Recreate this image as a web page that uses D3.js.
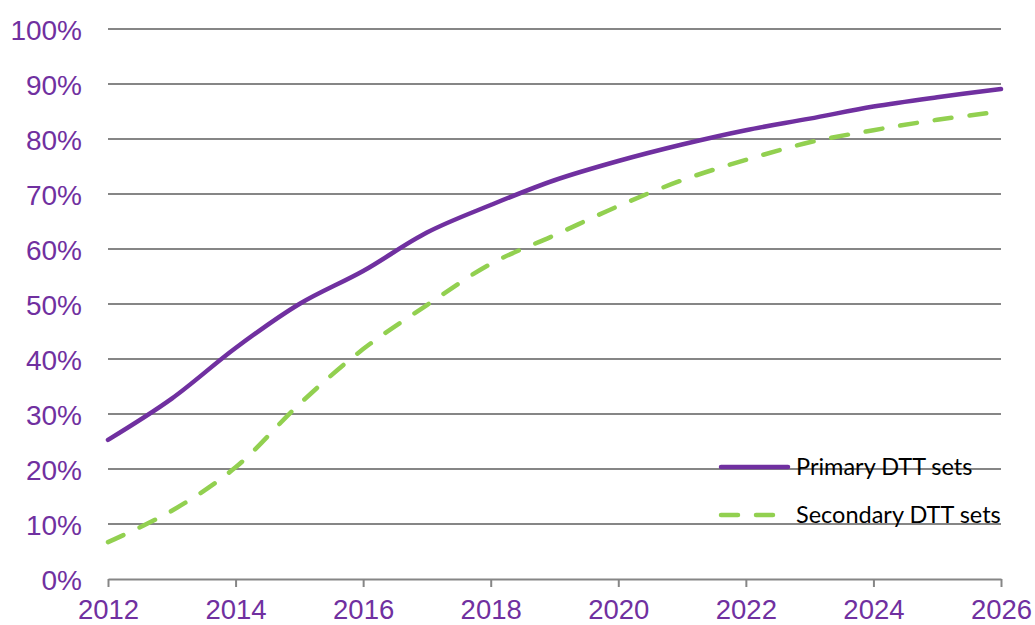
<!DOCTYPE html>
<html><head><meta charset="utf-8">
<script src="https://cdn.jsdelivr.net/npm/d3@7"></script>
<style>body{margin:0;background:#fff}svg{display:block}</style>
</head><body><svg id="c" width="1035" height="625"></svg>
<script>
const years = [2012,2013,2014,2015,2016,2017,2018,2019,2020,2021,2022,2023,2024,2025,2026];
const primary = [25.3,32.8,42,50,56,63,68,72.5,76,79,81.6,83.7,85.9,87.6,89.1];
const secondary = [6.7,12.4,20.3,31.8,41.8,49.8,57.3,62.5,67.8,72.5,76.2,79.4,81.6,83.5,85];
const xTicks = [2012,2014,2016,2018,2020,2022,2024,2026];
const yTicks = [0,10,20,30,40,50,60,70,80,90,100];
const seriesNames = ["Primary DTT sets","Secondary DTT sets"];

const svg = d3.select("#c");
const x = d3.scaleLinear().domain([2012,2026]).range([108,1001]);
const y = d3.scaleLinear().domain([0,100]).range([579,29]);
const purple = "#7030A0", green = "#92D050", grid = "#868686";
const dash = "17,18";

// gridlines
svg.append("g").selectAll("line").data(yTicks.filter(d=>d>0)).join("line")
  .attr("x1",x.range()[0]).attr("x2",x.range()[1])
  .attr("y1",d=>y(d)).attr("y2",d=>y(d))
  .attr("stroke",grid).attr("stroke-width",2);

// y axis labels
const yAxis = d3.axisLeft(y).tickValues(yTicks).tickFormat(d=>d+"%").tickSize(0).tickPadding(26);
const gy = svg.append("g").attr("transform",`translate(${x.range()[0]},0)`).call(yAxis);
gy.select(".domain").remove();
gy.selectAll("text").attr("fill",purple).attr("font-family","Liberation Sans, Arial, sans-serif").attr("font-size",28).attr("dy","0.36em");

// x axis
const xAxis = d3.axisBottom(x).tickValues(xTicks).tickFormat(d3.format("d")).tickSize(8).tickSizeOuter(0).tickPadding(12);
const gx = svg.append("g").attr("transform",`translate(0,${y(0)})`).call(xAxis);
gx.select(".domain").attr("stroke",grid).attr("stroke-width",2);
gx.selectAll(".tick line").attr("stroke",grid).attr("stroke-width",2);
gx.selectAll("text").attr("fill",purple).attr("font-family","Liberation Sans, Arial, sans-serif").attr("font-size",27.5);

const line = d3.line().x((d,i)=>x(years[i])).y(d=>y(d)).curve(d3.curveCatmullRom.alpha(0.5));

svg.append("path").datum(secondary).attr("d",line).attr("fill","none")
  .attr("stroke",green).attr("stroke-width",4.5).attr("stroke-linecap","round")
  .attr("stroke-dasharray",dash);
svg.append("path").datum(primary).attr("d",line).attr("fill","none")
  .attr("stroke",purple).attr("stroke-width",4.5).attr("stroke-linecap","round");

// legend
const lg = svg.append("g");
const items = [{name:seriesNames[0],color:purple,dash:null,y:467},{name:seriesNames[1],color:green,dash:dash,y:515}];
items.forEach(it=>{
  lg.append("line").attr("x1",721).attr("x2",788).attr("y1",it.y).attr("y2",it.y)
    .attr("stroke",it.color).attr("stroke-width",4.5).attr("stroke-linecap","round")
    .attr("stroke-dasharray",it.dash);
  lg.append("text").attr("x",796).attr("y",it.y).attr("dy","0.35em")
    .attr("font-family","Lato, Carlito, sans-serif").attr("font-size",23.5).attr("fill","#000")
    .text(it.name);
});
</script></body></html>
